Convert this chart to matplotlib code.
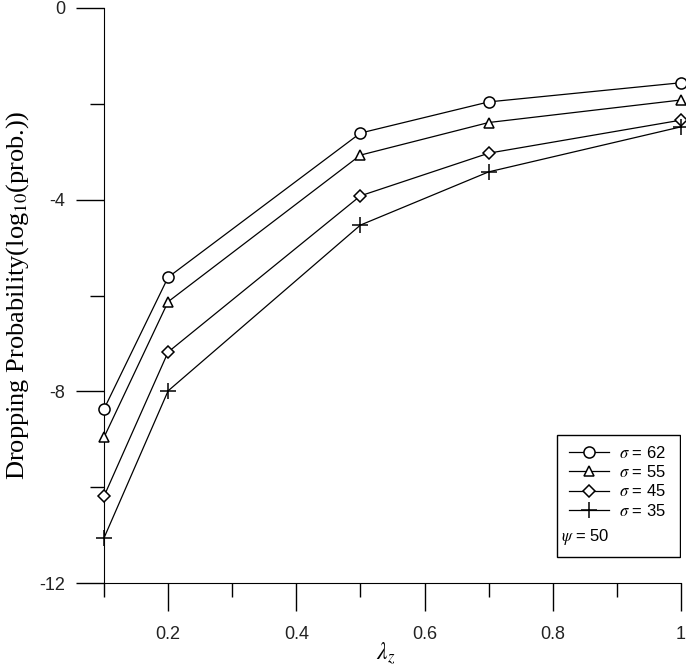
import matplotlib
matplotlib.use("Agg")
import matplotlib.pyplot as plt
from matplotlib.patches import Rectangle

# Data
lam = [0.1, 0.2, 0.5, 0.7, 1.0]
sigma_62 = [-8.37, -5.62, -2.61, -1.96, -1.56]
sigma_55 = [-8.96, -6.13, -3.07, -2.39, -1.92]
sigma_45 = [-10.19, -7.18, -3.92, -3.03, -2.34]
sigma_35 = [-11.06, -7.99, -4.53, -3.42, -2.48]
labels = ["62", "55", "45", "35"]
x_major = [0.2, 0.4, 0.6, 0.8, 1.0]
x_major_labels = ["0.2", "0.4", "0.6", "0.8", "1"]
x_minor = [0.1, 0.3, 0.5, 0.7, 0.9]
y_major = [0, -4, -8, -12]
y_minor = [-2, -6, -10]

plt.rcParams['font.family'] = ['Liberation Sans', 'DejaVu Sans']
plt.rcParams['mathtext.fontset'] = 'stix'
plt.rcParams['axes.unicode_minus'] = False

fig = plt.figure(figsize=(6.86, 6.66), dpi=100)
ax = fig.add_axes([0.1516, 0.1246, 0.8411, 0.8634])

series = [sigma_62, sigma_55, sigma_45, sigma_35]
markers = ['o', '^', 'D', '+']
sizes = [8, 7.5, 6.5, 11]
handles = []
for vals, m, s, lab in zip(series, markers, sizes, labels):
    ln, = ax.plot(lam, vals, color='black', linewidth=0.9, marker=m,
                  markersize=s, markerfacecolor='white', markeredgecolor='black',
                  markeredgewidth=1.1, label=r'$\mathit{\sigma}$ = ' + lab,
                  clip_on=False, zorder=3)
    handles.append(ln)

ax.set_xlim(0.1, 1.0)
ax.set_ylim(-12, 0)
ax.set_xticks(x_major)
ax.set_xticklabels(x_major_labels)
ax.set_xticks(x_minor, minor=True)
ax.set_yticks(y_major)
ax.set_yticks(y_minor, minor=True)

for s in ['top', 'right']:
    ax.spines[s].set_visible(False)

ax.tick_params(which='major', direction='out', length=20, width=1, labelsize=13,
               labelcolor='#222222')
ax.tick_params(which='minor', direction='out', length=10, width=1)
ax.tick_params(axis='x', which='major', pad=11)
ax.tick_params(axis='y', which='major', pad=8)

ax.set_xlabel(r'$\lambda_z$', fontsize=17, labelpad=2)
ax.set_ylabel(r'Dropping Probability(log$_{10}$(prob.))', fontsize=19,
              family=['Liberation Serif'], labelpad=6)
ax.xaxis.set_label_coords(0.488, -0.1)

# legend box
ax.add_patch(Rectangle((0.785, 0.045), 0.213, 0.212, transform=ax.transAxes,
                       facecolor='white', edgecolor='black', linewidth=1, zorder=5))
leg = ax.legend(handles=handles, loc='upper left', bbox_to_anchor=(0.795, 0.252),
                frameon=False, fontsize=12, handlelength=2.4, handletextpad=0.6,
                labelspacing=0.2, borderaxespad=0)
leg.set_zorder(6)
ax.text(0.792, 0.08, r'$\psi$ = 50', transform=ax.transAxes, fontsize=12,
        zorder=7, va='center', ha='left')

fig.savefig('out.png', dpi=100)
